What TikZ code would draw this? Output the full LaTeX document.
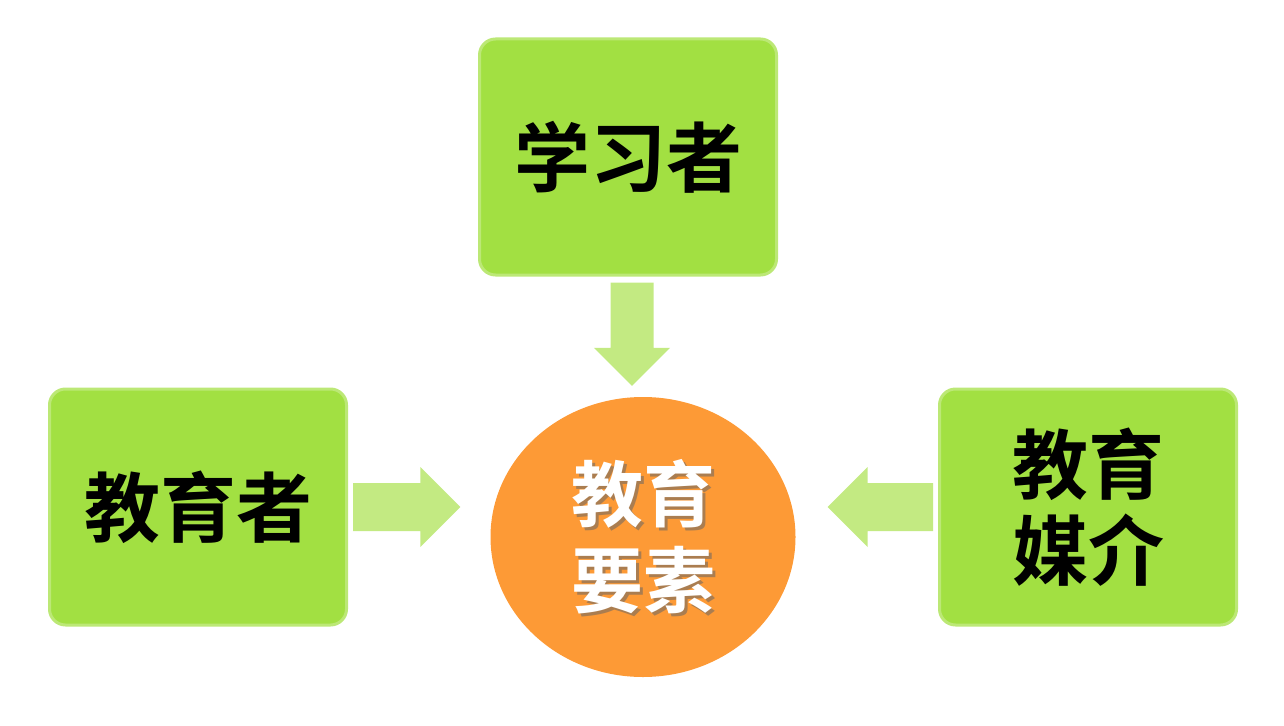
\documentclass[tikz,border=0pt]{standalone}
\usepackage{fontspec}
\newfontfamily\cjk{Noto Sans CJK SC}[BoldFont={* Bold}]
\usetikzlibrary{shapes.geometric,calc}
\definecolor{boxfill}{HTML}{A2E042}
\definecolor{boxline}{HTML}{BCE876}
\definecolor{arrowfill}{HTML}{C3EA82}
\definecolor{circfill}{HTML}{FD9A36}
% block arrow from #1 (start) to #2 (tip); #3 half shaft, #4 half head, #5 head length
\newcommand\blockarrowfix[5]{%
  \coordinate (ba-h) at ($(#2)!#5!(#1)$);
  \fill[bigarrow] ($(#1)!#3!90:(#2)$) -- ($(ba-h)!#3!-90:(#1)$) -- ($(ba-h)!#4!-90:(#1)$)
    -- (#2) -- ($(ba-h)!#4!90:(#1)$) -- ($(ba-h)!#3!90:(#1)$) -- ($(#1)!#3!-90:(#2)$) -- cycle;
}
\begin{document}
\begin{tikzpicture}[x=1pt,y=-1pt,
  greenbox/.style={draw=boxline,line width=3pt,fill=boxfill,rounded corners=16pt,
    minimum width=297pt,minimum height=236pt,inner sep=0pt,
    font=\cjk\bfseries\fontsize{76}{90}\selectfont,align=center},
  bigarrow/.style={fill=arrowfill,draw=none},
  coretext/.style={font=\cjk\bfseries\fontsize{72}{86}\selectfont,align=center}]
\useasboundingbox (0,0) rectangle (1284,725);
\node[greenbox] (learner) at (628,157) {学习者};
\node[greenbox] (teacher) at (198,507) {教育者};
\node[greenbox] (media) at (1088,507) {教育\\[-4pt]媒介};
\node[ellipse,fill=circfill,minimum width=305pt,minimum height=280pt,inner sep=0pt] (core) at (643,537) {};
\node[coretext,text=black!60,opacity=0.55] (coreshadow) at ([xshift=3pt,yshift=-3pt]core.center) {教育\\要素};
\node[coretext,text=white] (coretext) at (core.center) {教育\\要素};
% arrow ends
\coordinate (ls) at ([xshift=5pt]teacher.east);
\coordinate (lt) at ([xshift=-30pt]core.west |- teacher.east);
\coordinate (rs) at ([xshift=-5pt]media.west);
\coordinate (rt) at ([xshift=32pt]core.east |- media.west);
\coordinate (ts) at ([yshift=-6pt]learner.south -| 632,0);
\coordinate (tt) at ([yshift=11pt]core.north -| 632,0);
\blockarrowfix{ts}{tt}{21.5pt}{38pt}{38pt}
\blockarrowfix{ls}{lt}{24pt}{40pt}{40pt}
\blockarrowfix{rs}{rt}{24pt}{40pt}{40pt}
\end{tikzpicture}
\end{document}
